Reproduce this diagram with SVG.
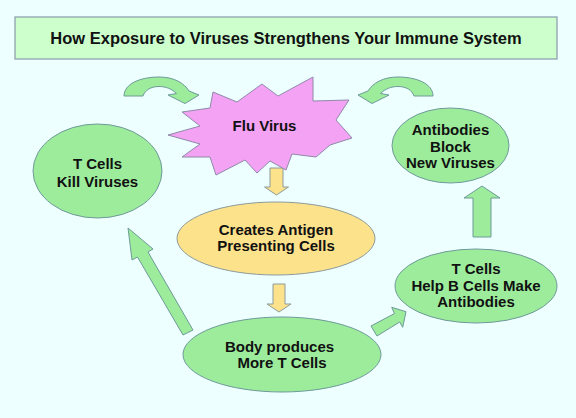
<svg xmlns="http://www.w3.org/2000/svg" width="576" height="418" viewBox="0 0 576 418">
  <style>
    .t { font-family: "Liberation Sans", Arial, sans-serif; font-weight: bold; font-size: 15px; fill: #111111; text-anchor: middle; }
    .big { font-size: 16.5px; }
    .green { fill: #9CEC9C; stroke: #6E9A9A; stroke-width: 1; }
    .yellow { fill: #FDE28C; stroke: #8C9A9A; stroke-width: 1; }
    .star { fill: #F4A2F4; stroke: #8F8AA8; stroke-width: 1; }
    .title { fill: #CCFFCC; stroke: #8899AA; stroke-width: 1.2; }
  </style>
  <rect x="0" y="0" width="576" height="418" fill="#EEFFFF"/>

  <g id="title">
    <rect class="title" x="15" y="17" width="542" height="42"/>
    <text class="t big" x="286" y="43.5">How Exposure to Viruses Strengthens Your Immune System</text>
  </g>

  <g id="connectors">
    <!-- curved arrow left -->
    <path class="green" d="M124,96 C124,84 140,77 159,77 C174,77 184,83 189,91 L199,95 L185,103.5 L168,95 L176.5,93.5 C172,89 166,86.5 159,86.5 C151,86.5 145,90 143,96 Z"/>
    <!-- curved arrow right (mirrored) -->
    <path class="green" transform="matrix(-1 0 0 1 557 0)" d="M124,96 C124,84 140,77 159,77 C174,77 184,83 189,91 L199,95 L185,103.5 L168,95 L176.5,93.5 C172,89 166,86.5 159,86.5 C151,86.5 145,90 143,96 Z"/>
    <!-- star to antigen cells -->
    <path class="yellow" d="M270,168 L283,168 L283,187 L288.5,187 L276.5,195 L264.5,187 L270,187 Z"/>
    <!-- antigen cells to body -->
    <path class="yellow" d="M273,284 L285,284 L285,304 L291,304 L279,312 L267,304 L273,304 Z"/>
    <!-- body to T cells kill (big diagonal) -->
    <path class="green" d="M183,335 L137.5,257 L132,260 L128,228 L153,249 L148,252 L193,330 Z"/>
    <!-- body to T cells help -->
    <path class="green" d="M371,326 L394.5,313.5 L391.7,307.3 L406,311.7 L402.7,327.3 L399.7,322 L377,336 Z"/>
    <!-- T cells help to antibodies (up) -->
    <path class="green" d="M473,237 L473,198 L464,198 L482,186 L500,198 L491,198 L491,237 Z"/>
  </g>

  <g id="flu-virus">
    <polygon class="star" points="168,135 200,126 182,112 210,108 213,92 237,102 262,84 278,96 313,77 313,101 349,100 336,120 352,138 330,145 316,157 292,154 286,170 270,161 257,173 245,160 216,175 210,157 182,157 200,144"/>
    <text class="t" x="264.5" y="130.5">Flu Virus</text>
  </g>

  <g id="t-cells-kill">
    <ellipse class="green" cx="97.5" cy="171" rx="64.5" ry="47"/>
    <text class="t" x="97.5" y="169">T Cells</text>
    <text class="t" x="97.5" y="187">Kill Viruses</text>
  </g>

  <g id="antibodies-block">
    <ellipse class="green" cx="450.5" cy="145.5" rx="58.5" ry="37.5"/>
    <text class="t" x="450.5" y="135">Antibodies</text>
    <text class="t" x="450.5" y="151.5">Block</text>
    <text class="t" x="450.5" y="168">New Viruses</text>
  </g>

  <g id="antigen-cells">
    <ellipse class="yellow" cx="276" cy="238.5" rx="99" ry="36.5"/>
    <text class="t" x="276" y="235">Creates Antigen</text>
    <text class="t" x="276" y="251">Presenting Cells</text>
  </g>

  <g id="body-produces">
    <ellipse class="green" cx="282" cy="354.5" rx="99" ry="37.5"/>
    <text class="t" x="279.5" y="352">Body produces</text>
    <text class="t" x="282" y="368">More T Cells</text>
  </g>

  <g id="t-cells-help">
    <ellipse class="green" cx="476" cy="286" rx="81" ry="37"/>
    <text class="t" x="476" y="274">T Cells</text>
    <text class="t" x="476" y="290.5">Help B Cells Make</text>
    <text class="t" x="476" y="307">Antibodies</text>
  </g>
</svg>
